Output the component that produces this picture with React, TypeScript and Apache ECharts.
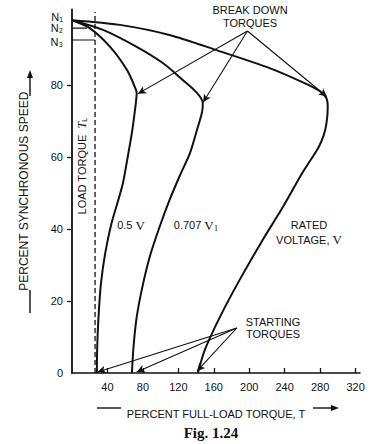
import React, { useEffect, useRef } from "react";
import * as echarts from "echarts";

// ---- data (percent full-load torque T, percent synchronous speed) ----
const torqueTicks = [40, 80, 120, 160, 200, 240, 280, 320];
const speedTicks = [0, 20, 40, 60, 80];
const speedLevels = [98, 95.8, 92.5];
const levelNames = ["N₁", "N₂", "N₃"];
const loadTorque = 26;

const ratedT = [0, 54, 110, 163, 223, 260, 279, 287, 288.6, 287.2, 284, 278, 260, 238, 215, 189, 167, 150, 142];
const ratedS = [98, 96.7, 93.9, 89.7, 84.7, 80.8, 78.4, 76.4, 73.9, 69.4, 66, 62.6, 55.6, 46.1, 36.9, 25.8, 15.6, 6.5, 0];

const v707T = [0, 35, 73, 102.5, 125, 141, 147.6, 146.8, 141, 133, 122, 110, 98, 88, 79.5, 73, 69.5, 67.6];
const v707S = [98, 95.3, 90.6, 86.1, 81.4, 77.8, 75, 72.5, 67.5, 61, 55, 48, 40, 32.5, 24, 15.5, 7.5, 0];

const v05T = [0, 20, 43, 62, 71, 73, 72.3, 70, 67.6, 62.5, 57.5, 51, 44.5, 37.5, 32.5, 29.8, 28.5, 28];
const v05S = [98, 95.8, 90.6, 84.2, 79.4, 77.8, 75.5, 71, 66.7, 59.5, 52.8, 47, 41.5, 33.3, 24.5, 15, 7.5, 0];

const breakdownFrom = [198, 95];
const breakdownTo = [[74.5, 77.6], [148, 75.2], [287.5, 76.8]];
const startingFrom = [186, 12.5];
const startingTo = [[29, 0.3], [73, 0.3], [141, 0.5]];

const zip = (a: number[], b: number[]) => a.map((v, i) => [v, b[i]]);

const FONT = "'Liberation Sans', Arial, sans-serif";
const SERIF = "'Liberation Serif', 'Times New Roman', serif";
const INK = "#111";

export default function App() {
  const ref = useRef<HTMLDivElement>(null);
  useEffect(() => {
    if (!ref.current) return;
    const chart = echarts.init(ref.current, null, { renderer: "svg" });
    const curveStyle = { color: INK, width: 2 };
    const arrowLines: any[] = [];
    breakdownTo.forEach((p, i) => {
      const curv = i === 2 ? 0.4 : i === 1 ? -0.08 : 0;
      arrowLines.push([{ coord: breakdownFrom, lineStyle: { curveness: curv } }, { coord: p }]);
    });
    startingTo.forEach((p) => {
      arrowLines.push([{ coord: startingFrom }, { coord: p }]);
    });
    const labelMap: Record<string, string> = {};
    speedLevels.forEach((v, i) => (labelMap[String(v)] = levelNames[i]));

    chart.setOption({
      animation: false,
      grid: { left: 72, right: 28, top: 9.4, bottom: 71 },
      xAxis: {
        type: "value",
        min: 0,
        max: 325,
        splitLine: { show: false },
        axisLine: { lineStyle: { color: INK, width: 1.5 } },
        axisTick: { show: true, inside: true, length: 5, lineStyle: { color: INK, width: 1.3 }, customValues: torqueTicks },
        axisLabel: { color: INK, fontSize: 11, fontFamily: FONT, margin: 8, customValues: torqueTicks },
        name: "PERCENT FULL-LOAD TORQUE, T",
        nameLocation: "middle",
        nameGap: 35,
        nameTextStyle: { color: INK, fontSize: 11, fontFamily: FONT },
      },
      yAxis: {
        type: "value",
        min: 0,
        max: 101,
        splitLine: { show: false },
        axisLine: { lineStyle: { color: INK, width: 1.8 } },
        axisTick: { show: true, length: 5, lineStyle: { color: INK, width: 1.3 }, customValues: speedTicks.slice(1) },
        axisLabel: {
          color: INK,
          fontSize: 11,
          fontFamily: FONT,
          margin: 9,
          customValues: [...speedTicks, ...speedLevels],
          formatter: (v: number) => {
            const n = labelMap[String(v)];
            if (!n) return String(v);
            if (v === speedLevels[0]) return "{a|" + n + "}";
            if (v === speedLevels[2]) return "{c|" + n + "}";
            return n;
          },
          rich: {
            a: { fontSize: 11, fontFamily: FONT, color: INK, padding: [0, 0, 6, 0] },
            c: { fontSize: 11, fontFamily: FONT, color: INK, padding: [4, 0, 0, 0] },
          },
        },
        name: "PERCENT SYNCHRONOUS SPEED",
        nameLocation: "middle",
        nameGap: 42,
        nameTextStyle: { color: INK, fontSize: 12, fontFamily: FONT },
      },
      series: [
        { type: "line", name: "Rated voltage", data: zip(ratedT, ratedS), smooth: 0.25, showSymbol: false, lineStyle: curveStyle, silent: true },
        { type: "line", name: "0.707 V1", data: zip(v707T, v707S), smooth: 0.3, showSymbol: false, lineStyle: curveStyle, silent: true },
        { type: "line", name: "0.5 V", data: zip(v05T, v05S), smooth: 0.3, showSymbol: false, lineStyle: curveStyle, silent: true },
        {
          type: "line",
          name: "Load torque",
          data: [[loadTorque, 0], [loadTorque, 100.3]],
          showSymbol: false,
          silent: true,
          lineStyle: { color: INK, width: 1.3, type: [5, 3] },
          markLine: {
            silent: true,
            symbol: ["none", "arrow"],
            symbolSize: [6, 8],
            label: { show: false },
            lineStyle: { type: "solid", color: INK, width: 1.1 },
            emphasis: { disabled: true },
            data: arrowLines,
          },
        },
        { type: "line", name: "N2", data: [[0, speedLevels[1]], [17, speedLevels[1]]], showSymbol: false, silent: true, lineStyle: { color: INK, width: 1.2 } },
        { type: "line", name: "N3", data: [[0, speedLevels[2]], [loadTorque, speedLevels[2]]], showSymbol: false, silent: true, lineStyle: { color: INK, width: 1.2 } },
      ],
      graphic: [
        { type: "text", x: 250, y: 16, style: { text: "BREAK DOWN\nTORQUES", align: "center", verticalAlign: "middle", fontSize: 11, fontFamily: FONT, fill: INK, lineHeight: 13 } },
        { type: "text", x: 273, y: 328, style: { text: "STARTING\nTORQUES", align: "center", verticalAlign: "middle", fontSize: 11, fontFamily: FONT, fill: INK, lineHeight: 12 } },
        {
          type: "text", x: 131, y: 225,
          style: { text: "0.5 {v|V}", align: "center", verticalAlign: "middle", fontSize: 11, fontFamily: FONT, fill: INK, rich: { v: { fontSize: 13, fontFamily: SERIF, fill: INK } } },
        },
        {
          type: "text", x: 196, y: 225,
          style: { text: "0.707 {v|V}{s|1}", align: "center", verticalAlign: "middle", fontSize: 11, fontFamily: FONT, fill: INK, rich: { v: { fontSize: 13, fontFamily: SERIF, fill: INK }, s: { fontSize: 9, fontFamily: SERIF, fill: INK, padding: [5, 0, 0, 0] } } },
        },
        {
          type: "text", x: 309, y: 232,
          style: { text: "RATED\nVOLTAGE, {v|V}", align: "center", verticalAlign: "middle", fontSize: 11, fontFamily: FONT, fill: INK, lineHeight: 15, rich: { v: { fontSize: 13, fontFamily: SERIF, fill: INK, lineHeight: 15 } } },
        },
        {
          type: "text", x: 82, y: 166, rotation: Math.PI / 2,
          style: { text: "LOAD TORQUE  {t|T}{s|L}", align: "center", verticalAlign: "middle", fontSize: 11, fontFamily: FONT, fill: INK, rich: { t: { fontSize: 12, fontStyle: "italic", fontFamily: SERIF, fill: INK }, s: { fontSize: 8, fontFamily: FONT, fill: INK, padding: [5, 0, 0, 0] } } },
        },
        { type: "text", x: 211, y: 433, style: { text: "Fig. 1.24", align: "center", verticalAlign: "middle", fontSize: 15, fontWeight: "bold", fontFamily: SERIF, fill: INK } },
        // axis-name dashes and arrows
        { type: "rect", shape: { x: 97, y: 407.3, width: 24, height: 1.4 }, style: { fill: INK } },
        { type: "rect", shape: { x: 313, y: 407.3, width: 21, height: 1.4 }, style: { fill: INK } },
        { type: "polygon", shape: { points: [[339, 408], [331, 405], [331, 411]] }, style: { fill: INK } },
        { type: "rect", shape: { x: 29.3, y: 290, width: 1.4, height: 23 }, style: { fill: INK } },
        { type: "rect", shape: { x: 29.3, y: 76, width: 1.4, height: 20 }, style: { fill: INK } },
        { type: "polygon", shape: { points: [[30, 70], [27, 78], [33, 78]] }, style: { fill: INK } },
      ],
    });
    return () => chart.dispose();
  }, []);
  return <div ref={ref} style={{ position: "absolute", left: 0, top: 0, width: 388, height: 444 }} />;
}
